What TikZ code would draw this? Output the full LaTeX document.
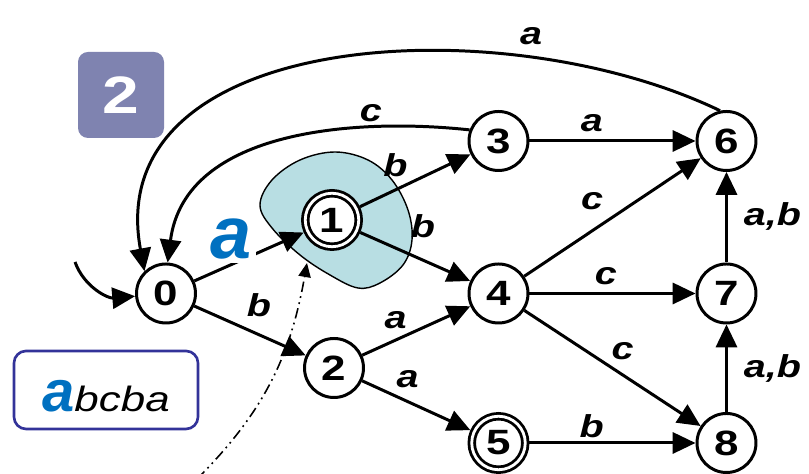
\documentclass[tikz,border=0pt]{standalone}
\usepackage{fontspec}
\setmainfont{Liberation Sans}
\newfontfamily\widesans[FakeStretch=1.25]{Liberation Sans}
\usetikzlibrary{arrows.meta,positioning}

\definecolor{letterblue}{RGB}{0,112,192}
\definecolor{badgegray}{RGB}{127,131,176}
\definecolor{blobcyan}{RGB}{184,222,227}
\definecolor{framenavy}{RGB}{51,51,153}

\tikzset{
  state/.style={circle, draw, fill=white, line width=1.7pt, minimum size=1.18cm,
    inner sep=0pt, font=\widesans\bfseries\fontsize{20}{24}\selectfont},
  finalstate/.style={state, double, double distance=1.6pt, line width=1.6pt,
    minimum size=1.07cm, outer sep=2.4pt},
  lbl/.style={font=\widesans\bfseries\itshape\fontsize{18}{22}\selectfont, inner sep=2pt},
  trans/.style={line width=1.7pt, -{Triangle[length=13pt,width=12pt]}},
}

\begin{document}
\begin{tikzpicture}
\useasboundingbox (0,0) rectangle (16.18,9.48);

% highlighted region round state 1
\draw [fill=blobcyan, line width=0.8pt] plot [smooth cycle, tension=0.6] coordinates
  {(5.20,5.38) (5.44,5.88) (6.00,6.28) (6.70,6.44) (7.36,6.28) (7.84,5.88)
   (8.16,5.28) (8.24,4.68) (8.06,4.18) (7.60,3.82) (7.16,3.72) (6.60,3.98)
   (6.00,4.38) (5.44,4.92)};

% states
\node [state] (n0) at (3.32,3.61) {0};
\node [finalstate] (n1) at (6.64,5.08) {1};
\node [state] (n2) at (6.68,2.12) {2};
\node [state] (n3) at (9.97,6.66) {3};
\node [state] (n4) at (9.97,3.61) {4};
\node [finalstate] (n5) at (9.97,0.62) {5};
\node [state] (n6) at (14.53,6.66) {6};
\node [state] (n7) at (14.53,3.61) {7};
\node [state] (n8) at (14.53,0.62) {8};

\coordinate (init) at (1.50,4.24);
\coordinate (cursor) at (3.94,-0.10);
\coordinate (blobtip) at (6.14,4.22);

% step badge and input word
\node [fill=badgegray, rounded corners=0.2cm, minimum size=1.72cm,
  text=white, font=\widesans\bfseries\fontsize{30}{36}\selectfont] (badge) at (2.42,7.58) {2};
\node [draw=framenavy, line width=1.5pt, rounded corners=0.24cm,
  minimum width=3.68cm, minimum height=1.56cm, text height=25pt, text depth=0pt]
  (word) at (2.12,1.68)
  {{\color{letterblue}\bfseries\itshape\fontsize{33}{36}\selectfont a}{\widesans\itshape\fontsize{20}{24}\selectfont bcba}};

% transitions
\draw [trans] (init) to [out=-70, in=185] (n0);
\draw [trans] (n0) -- node [pos=0.34, anchor=south, fill=white, inner sep=2pt,
  text=letterblue, font=\bfseries\itshape\fontsize{42}{46}\selectfont] {a} (n1);
\draw [trans] (n0) -- node [lbl, pos=0.58, above=7.6pt] {b} (n2);
\draw [trans] (n1) -- node [lbl, pos=0.32, above=4.5pt] {b} (n3);
\draw [trans] (n1) -- node [lbl, pos=0.57, above=10pt] {b} (n4);
\draw [trans] (n2) -- node [lbl, pos=0.31, above=3.4pt] {a} (n4);
\draw [trans] (n2) -- node [lbl, pos=0.42, above=4.9pt] {a} (n5);
\draw [trans] (n3) -- node [lbl, pos=0.375, above=2.3pt] {a} (n6);
\draw [trans] (n4) -- node [lbl, pos=0.384, above=9pt] {c} (n6);
\draw [trans] (n4) -- node [lbl, pos=0.46, above=2pt] {c} (n7);
\draw [trans] (n4) -- node [lbl, pos=0.557, above=5.7pt] {c} (n8);
\draw [trans] (n5) -- node [lbl, pos=0.375, above=0pt] {b} (n8);
\draw [trans] (n7) -- node [lbl, pos=0.51, right=7pt] {a,b} (n6);
\draw [trans] (n8) -- node [lbl, pos=0.5, right=7pt] {a,b} (n7);
\draw [trans] (n3.159) .. controls (7.20,7.12) and (3.70,6.92) ..
  node [lbl, pos=0.27, above] {c} (n0.87);
\draw [trans] (n6.102) .. controls (10.00,9.38) and (2.00,8.88) ..
  node [lbl, pos=0.25, above=4pt] {a} (n0.134);

% reading head
\draw [line width=0.9pt, dash pattern=on 6pt off 2.5pt on 1pt off 2.5pt on 1pt off 2.5pt,
  -{Triangle[length=8pt,width=7pt]}] (cursor) to [out=45, in=-100] (blobtip);

\end{tikzpicture}
\end{document}
